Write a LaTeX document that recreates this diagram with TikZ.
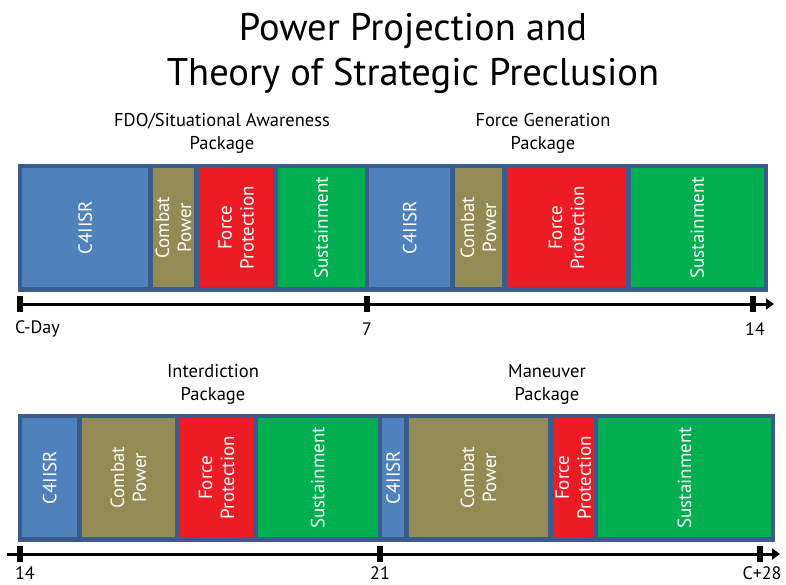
\documentclass[tikz,border=0pt]{standalone}
\usepackage{fontspec}
\setmainfont{PT Sans}
\usepackage{tikz}
\usetikzlibrary{arrows.meta}

\definecolor{edgeblue}{HTML}{3B5C8A}
\definecolor{c4blue}{HTML}{4F81BD}
\definecolor{olive}{HTML}{948A54}
\definecolor{fpred}{HTML}{ED1C24}
\definecolor{sgreen}{HTML}{00B050}

\begin{document}
\begin{tikzpicture}[x=1pt, y=-1pt,
            box/.style={rectangle,draw=edgeblue,line width=4.5pt,text=white,rotate=90,
                align=center,inner sep=0pt,font=\fontsize{19}{22}\selectfont},
            pkg/.style={align=center,font=\fontsize{18.5}{23}\selectfont},
            tick/.style={rectangle,fill=black,minimum width=6pt,minimum height=16pt,inner sep=0pt},
            day/.style={font=\fontsize{18}{20}\selectfont,inner sep=0pt},
            axis/.style={line width=3pt,-{Triangle[length=8pt,width=11pt]}},
        ]
            \useasboundingbox (0,0) rectangle (786,585);

            \node[align=center,font=\fontsize{38.5}{45}\selectfont] (title) at (413, 53)
                {Power Projection and\\Theory of Strategic Preclusion};

            % first fortnight
            \node[pkg] (fdo) at (222, 133) {FDO/Situational Awareness\\Package};
            \node[pkg] (fg) at (543, 133) {Force Generation\\Package};

            \node[box,fill=c4blue,minimum width=123.5pt,minimum height=130.5pt] (c4a) at (85.25, 227.75) {C4IISR};
            \node[box,fill=olive,minimum width=123.5pt,minimum height=46pt] (cpa) at (173.5, 227.75) {Combat\\Power};
            \node[box,fill=fpred,minimum width=123.5pt,minimum height=79pt] (fpa) at (236, 227.75) {Force\\Protection};
            \node[box,fill=sgreen,minimum width=123.5pt,minimum height=91.5pt] (sua) at (321.25, 227.75) {Sustainment};
            \node[box,fill=c4blue,minimum width=123.5pt,minimum height=85.5pt] (c4b) at (409.75, 227.75) {C4IISR};
            \node[box,fill=olive,minimum width=123.5pt,minimum height=52pt] (cpb) at (478.5, 227.75) {Combat\\Power};
            \node[box,fill=fpred,minimum width=123.5pt,minimum height=124pt] (fpb) at (566.5, 227.75) {Force\\Protection};
            \node[box,fill=sgreen,minimum width=123.5pt,minimum height=137.5pt] (sub) at (697.25, 227.75) {Sustainment};

            \node[tick] (d0) at (20, 304) {};
            \node[tick] (d7) at (367, 304) {};
            \node[tick] (d14) at (753, 304) {};
            \coordinate (end1) at (774, 304);
            \draw[axis] (d0.center) -- (end1);

            \node[day,anchor=west] (lc) at (15, 329) {C-Day};
            \node[day] (l7) at (367, 329) {7};
            \node[day] (l14) at (755, 329) {14};

            % second fortnight
            \node[pkg] (int) at (213, 384) {Interdiction\\Package};
            \node[pkg] (man) at (547, 384) {Maneuver\\Package};

            \node[box,fill=c4blue,minimum width=123.5pt,minimum height=59.5pt] (c4c) at (49.75, 477.75) {C4IISR};
            \node[box,fill=olive,minimum width=123.5pt,minimum height=98pt] (cpc) at (128.5, 477.75) {Combat\\Power};
            \node[box,fill=fpred,minimum width=123.5pt,minimum height=78pt] (fpc) at (216.5, 477.75) {Force\\Protection};
            \node[box,fill=sgreen,minimum width=123.5pt,minimum height=124.5pt] (suc) at (317.75, 477.75) {Sustainment};
            \node[box,fill=c4blue,minimum width=123.5pt,minimum height=26.5pt] (c4d) at (393.25, 477.75) {C4IISR};
            \node[box,fill=olive,minimum width=123.5pt,minimum height=144pt] (cpd) at (478.5, 477.75) {Combat\\Power};
            \node[box,fill=fpred,minimum width=123.5pt,minimum height=45.5pt] (fpd) at (573.25, 477.75) {Force\\Protection};
            \node[box,fill=sgreen,minimum width=123.5pt,minimum height=177pt] (sud) at (684.5, 477.75) {Sustainment};

            \coordinate (start2) at (7, 554);
            \node[tick] (d14b) at (20, 554) {};
            \node[tick] (d21) at (380, 554) {};
            \node[tick] (d28) at (760, 554) {};
            \coordinate (end2) at (780, 554);
            \draw[axis] (start2) -- (end2);

            \node[day] (l14b) at (25, 573) {14};
            \node[day] (l21) at (380, 573) {21};
            \node[day] (l28) at (762, 573) {C+28};
        \end{tikzpicture}
\end{document}
